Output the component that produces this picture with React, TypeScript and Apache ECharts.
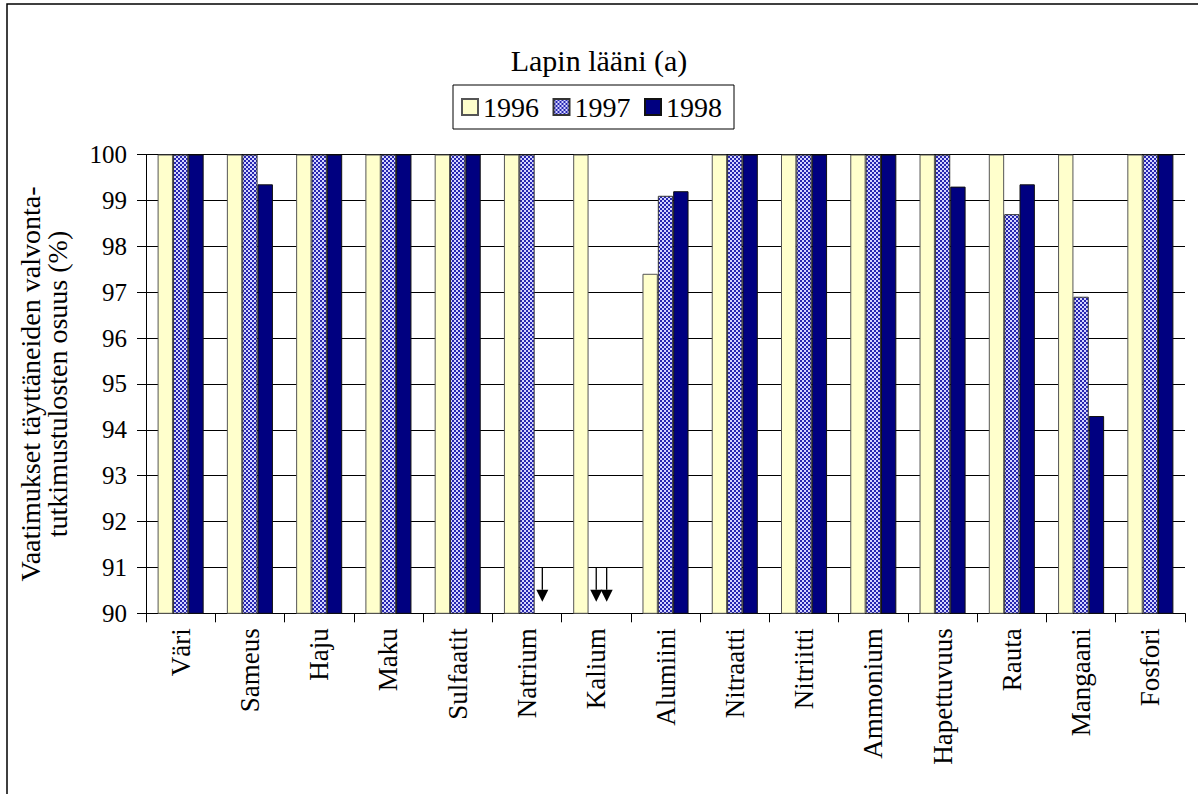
import React, { useEffect, useRef } from "react";
import * as echarts from "echarts";

// Parameters analysed
const categories = [
  "Väri", "Sameus", "Haju", "Maku", "Sulfaatit", "Natrium", "Kalium", "Alumiini",
  "Nitraatti", "Nitriitti", "Ammonium", "Hapettuvuus", "Rauta", "Mangaani", "Fosfori",
];

const years = ["1996", "1997", "1998"];

// Share of samples meeting the requirements (%), "-" = no value
const values1996: (number | string)[] = [100, 100, 100, 100, 100, 100, 100, 97.4, 100, 100, 100, 100, 100, 100, 100];
const values1997: (number | string)[] = [100, 100, 100, 100, 100, 100, "-", 99.1, 100, 100, 100, 100, 98.7, 96.9, 100];
const values1998: (number | string)[] = [100, 99.35, 100, 100, 100, "-", "-", 99.2, 100, 100, 100, 99.3, 99.35, 94.3, 100];

// Downward arrows marking values below the axis minimum:
// [category index, bar slot offset, arrow start value, arrow tip value]
const arrows: number[][] = [
  [5, 1, 91, 90.25],
  [6, 0, 91, 90.25],
  [6, 0.68, 91, 90.25],
];

const yTicks = { min: 90, max: 100, interval: 1 };

const FONT = "Liberation Serif";
const BAR_GAP = 0.335;

function makeChecker(): HTMLCanvasElement {
  const c = document.createElement("canvas");
  c.width = 4;
  c.height = 4;
  const ctx = c.getContext("2d")!;
  ctx.fillStyle = "#d4d4ff";
  ctx.fillRect(0, 0, 4, 4);
  ctx.fillStyle = "#2626b0";
  ctx.fillRect(0, 0, 2, 2);
  ctx.fillRect(2, 2, 2, 2);
  return c;
}

export default function App() {
  const ref = useRef<HTMLDivElement>(null);

  useEffect(() => {
    document.body.style.margin = "0";
    const chart = echarts.init(ref.current!, undefined, { renderer: "svg" });
    const checker = makeChecker();

    const barStyle = (color: any, border: string) => ({
      color,
      borderColor: border,
      borderWidth: 1,
    });

    chart.setOption({
      animation: false,
      backgroundColor: "#ffffff",
      textStyle: { fontFamily: FONT, color: "#000" },
      title: {
        text: "Lapin lääni (a)",
        left: "center",
        top: 40,
        textStyle: { fontFamily: FONT, fontSize: 30, fontWeight: "normal", color: "#000" },
      },
      legend: {
        data: years.map((name) => ({ name, icon: "rect" })),
        left: 453,
        top: 85,
        itemWidth: 16,
        itemHeight: 16,
        itemGap: 13.5,
        padding: [8, 12, 8, 8],
        borderColor: "#000",
        borderWidth: 1,
        selectedMode: false,
        textStyle: { fontFamily: FONT, fontSize: 28, color: "#000" },
      },
      grid: { left: 146, right: 13, top: 154.5, bottom: 180.7 },
      xAxis: {
        type: "category",
        data: categories,
        axisLine: { lineStyle: { color: "#000", width: 1 } },
        axisTick: { show: true, length: 9, lineStyle: { color: "#000" } },
        axisLabel: {
          rotate: 90,
          fontSize: 27,
          fontFamily: FONT,
          color: "#000",
          margin: 15,
          interval: 0,
        },
      },
      yAxis: {
        type: "value",
        min: yTicks.min,
        max: yTicks.max,
        interval: yTicks.interval,
        axisLine: { show: true, lineStyle: { color: "#000", width: 1 } },
        axisTick: { show: true, length: 9, lineStyle: { color: "#000" } },
        axisLabel: { fontSize: 25, fontFamily: FONT, color: "#000", margin: 19 },
        splitLine: { show: true, lineStyle: { color: "#000", width: 1 } },
      },
      series: [
        {
          name: years[0],
          type: "bar",
          data: values1996,
          barCategoryGap: `${BAR_GAP * 100}%`,
          barGap: "0%",
          itemStyle: barStyle("#ffffcc", "#555"),
        },
        {
          name: years[1],
          type: "bar",
          data: values1997,
          barGap: "0%",
          itemStyle: barStyle({ image: checker, repeat: "repeat" }, "#333"),
        },
        {
          name: years[2],
          type: "bar",
          data: values1998,
          barGap: "0%",
          itemStyle: barStyle("#000080", "#111"),
        },
        {
          name: "arrows",
          type: "custom",
          data: arrows,
          z: 5,
          renderItem: (params: any, api: any) => {
            const start = api.coord([api.value(0), api.value(2)]);
            const tip = api.coord([api.value(0), api.value(3)]);
            const bw = (api.size([1, 0])[0] * (1 - BAR_GAP)) / 3;
            const x = start[0] + api.value(1) * bw;
            const head = 12;
            return {
              type: "group",
              children: [
                {
                  type: "line",
                  shape: { x1: x, y1: start[1], x2: x, y2: tip[1] - head },
                  style: { stroke: "#000", lineWidth: 1.3 },
                },
                {
                  type: "polygon",
                  shape: {
                    points: [
                      [x - 6, tip[1] - head],
                      [x + 6, tip[1] - head],
                      [x, tip[1]],
                    ],
                  },
                  style: { fill: "#000" },
                },
              ],
            };
          },
        },
      ],
      graphic: [
        {
          type: "rect",
          shape: { x: 7, y: 4, width: 1300, height: 900 },
          style: { fill: "none", stroke: "#000", lineWidth: 1.5 },
          silent: true,
        },
        {
          type: "text",
          x: 44,
          y: 384,
          rotation: Math.PI / 2,
          style: {
            text: "Vaatimukset täyttäneiden valvonta-\ntutkimustulosten osuus (%)",
            fontFamily: FONT,
            fontSize: 28,
            fill: "#000",
            align: "center",
            verticalAlign: "middle",
            lineHeight: 27,
          },
        },
      ],
    });

    return () => chart.dispose();
  }, []);

  return <div ref={ref} style={{ width: 1198, height: 794 }} />;
}
